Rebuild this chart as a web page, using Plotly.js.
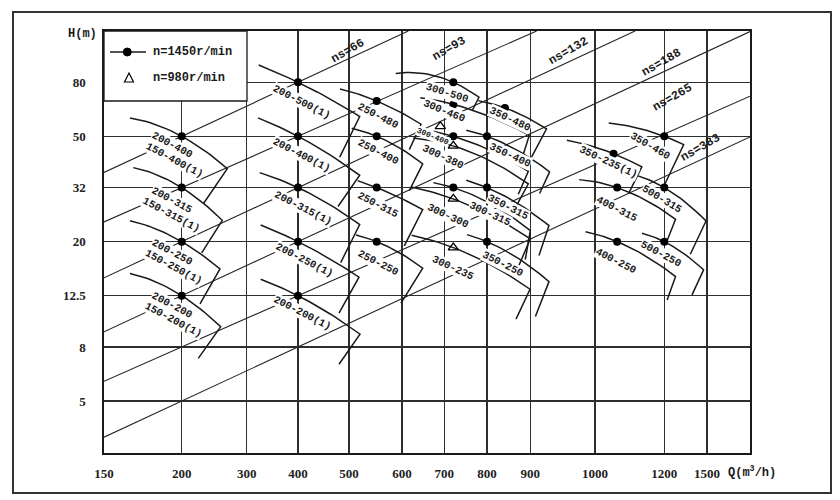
<!DOCTYPE html>
<html><head><meta charset="utf-8">
<script src="https://cdn.plot.ly/plotly-3.0.1.min.js"></script>
<style>html,body{margin:0;padding:0;background:#fff}#chart{width:840px;height:500px}</style>
</head><body><div id="chart"></div>
<script>
// ================= DATA =================
const xTickQ = [150,200,300,400,500,600,700,800,900,1000,1200,1500];
const yTickH = [5,8,12.5,20,32,50,80];

const pumpModel = ['200-400','200-315','200-250','200-200',
  '200-500(1)','200-400(1)','200-315(1)','200-250(1)','200-200(1)',
  '250-480','250-400','250-315','250-250',
  '300-500','300-460','300-400','300-380','300-315','300-300','300-235',
  '350-480','350-400','350-315','350-250',
  '350-235(1)','400-315','400-250',
  '350-460','500-315','500-250'];
const pumpModel2 = ['150-400(1)','150-315(1)','150-250(1)','150-200(1)'];
const pumpQ = [200,200,200,200, 400,400,400,400,400, 550,550,550,550,
  720,720,720,720,720,720,720, 840,800,800,800, 1050,1060,1060, 1200,1200,1200];
const pumpH = [50,32,20,12.5, 80,50,32,20,12.5, 68,50,32,20,
  80,66,50,46,32,29,19, 64,50,32,20, 43,32,20, 50,32,20];
const pumpSpeed = [1450,1450,1450,1450, 1450,1450,1450,1450,1450, 1450,1450,1450,1450,
  1450,1450,1450,980,1450,980,980, 1450,1450,1450,1450, 1450,1450,1450, 1450,1450,1450];
const extraTriQ = [690];
const extraTriH = [54.5];

const nsValue = [66,93,132,188,265,383];
const nsH200 = [50,32,20,12.5,8,5];
const nsH400 = [80,50,32,20,12.5,8];

// ================= LAYOUT (measured positions / shapes) =================
const xTickPos = [0,77.7,142.7,194,245,298,340.3,383,426.3,491,560.3,603];
const PLOT_W = 646, PX_DEC = 265, L_TOP = 2.0967, L_BOT = 0.5027;

// tile outline offsets in px relative to rated point: start dx,dy / corner dx,dy / edge end dx,dy (dy down)
const tileGeom = [
[-51.7,-18.4,45.6,32.3,22,67],[-48.4,-20,40.6,32.7,20,65.3],[-51.7,-21,38.3,27.3,18.3,62.3],[-51.7,-22.3,39,31,16.6,62.7],
[-39.3,-17.3,61.7,34.3,41.7,75],[-40,-18.4,61.7,39,40,70.3],[-38.3,-15,61.7,37,42.7,75],[-37.3,-16.7,61,35.6,41,71.6],[-37.3,-16.4,62,38.6,41,68.6],
[-36.7,-12,44.3,23.3,32.6,48.7],[-25,-8,46,27.6,32.6,54.3],[-19,-7,46,22,27.6,58.4],[-20.7,-6.7,46,26.6,24.3,61.6],
[-57.6,-8.7,25.7,15,19,28],[-33,-6.7,76,31,70,50],[-20,-5,75,35,65,58],[-40,-8,75,38,62,62],[-20,-5,77,43,72,72],[-42,-12,77,40,65,68],[-41.6,-12.3,76.7,41.7,62.7,71.7],
[-26.7,-7.3,41.6,21,26.6,49.3],[-20.7,-6,62.6,35.6,52.6,57.3],[-20.7,-7.4,62,38,52,68],[-20,-7,62,40,48.4,75],
[-46.7,-13.3,28.3,13.3,15,40],[-38,-8,58.4,31.7,50,53],[-31.6,-10,58.4,35,50,58.3],
[-55.6,-13.3,19.4,8.3,-0.6,50.3],[-27,-12,41.7,33.4,26,66.7],[-22.3,-8.4,39.3,28.3,27.7,53.3]
];
// label offsets in px relative to point, and angle
const labelGeom = [
[-9.4,9,28],[-10,12,28],[-10,10.7,28],[-10,9.3,28],
[3.4,20,27],[3.4,19,27],[5,20,27],[6,18.5,27],[4.4,17,27],
[1.6,15,27],[1.6,16,27],[1.6,17,27],[1.6,21.6,27],
[-6,11,17],[-9,7,22],[-20,0,22],[-10,11,25],[37,26,25],[-5,16.7,25],[0,20,25],
[5,11,25],[22.6,19,25],[21,19.3,27],[16,22,27],
[-5,8.3,25],[0,21,27],[-1,19,27],
[-14,10,30],[-2.3,11,31],[-3,12,28]
];
const label2Geom = [[-7.7,24,28],[-10,27,28],[-8.4,25.7,28],[-8.4,24.3,28]];
// ns label centres in page px
const nsLabelPx = [[348,51.3],[448.7,48.7],[568.7,51.3],[661,63],[672,98],[700.3,148]];

// ================= helpers =================
function qToX(q){
  let i = 0;
  while (i < xTickQ.length-2 && q > xTickQ[i+1]) i++;
  const a = Math.log(xTickQ[i]), b = Math.log(xTickQ[i+1]);
  return xTickPos[i] + (Math.log(q)-a)/(b-a)*(xTickPos[i+1]-xTickPos[i]);
}
const L = h => Math.log10(h);
const H = l => Math.pow(10, l);
const px2paperX = px => (px-104)/PLOT_W;
const px2paperY = py => (453-py)/(453-31);

const INK = '#1a1a1a';
const traces = [];

// ns lines
nsValue.forEach((ns,k)=>{
  const x1 = qToX(200), l1 = L(nsH200[k]);
  const x2 = qToX(400), l2 = L(nsH400[k]);
  const m = (l2-l1)/(x2-x1);
  const xl = 0, ll = l1 + m*(xl-x1);
  let xr = PLOT_W, lr = l1 + m*(xr-x1);
  if (lr > L_TOP){ lr = L_TOP; xr = x1 + (L_TOP-l1)/m; }
  traces.push({x:[xl,xr], y:[H(ll),H(lr)], mode:'lines', line:{color:'#262626',width:1.1}, hoverinfo:'skip', showlegend:false});
});

// tiles
pumpModel.forEach((name,i)=>{
  const g = tileGeom[i];
  const x1 = qToX(pumpQ[i]), l1 = L(pumpH[i]);
  const x0 = x1+g[0], l0 = l1 - g[1]/PX_DEC;
  const x2 = x1+g[2], l2 = l1 - g[3]/PX_DEC;
  const xs=[], ys=[];
  const N=24;
  for(let j=0;j<=N;j++){
    const x = x0 + (x2-x0)*j/N;
    const l = l0*((x-x1)*(x-x2))/((x0-x1)*(x0-x2)) + l1*((x-x0)*(x-x2))/((x1-x0)*(x1-x2)) + l2*((x-x0)*(x-x1))/((x2-x0)*(x2-x1));
    xs.push(x); ys.push(H(l));
  }
  xs.push(x1+g[4]); ys.push(H(l1 - g[5]/PX_DEC));
  traces.push({x:xs, y:ys, mode:'lines', line:{color:INK,width:1.5}, hoverinfo:'skip', showlegend:false});
});

// markers
const fi = pumpModel.map((_,i)=>i).filter(i=>pumpSpeed[i]===1450);
const ti = pumpModel.map((_,i)=>i).filter(i=>pumpSpeed[i]===980);
traces.push({x:fi.map(i=>qToX(pumpQ[i])), y:fi.map(i=>pumpH[i]), mode:'markers',
  marker:{symbol:'circle',size:8,color:'#000'}, showlegend:false, hoverinfo:'skip'});
traces.push({x:ti.map(i=>qToX(pumpQ[i])).concat(extraTriQ.map(qToX)), y:ti.map(i=>pumpH[i]).concat(extraTriH), mode:'markers',
  marker:{symbol:'triangle-up-open',size:9,color:'#000',line:{width:1.3,color:'#000'}}, showlegend:false, hoverinfo:'skip'});

// annotations
const annotations = [];
const lblFont = {family:'Liberation Mono', size:10.5, color:'#1a1a1a', weight:'bold'};
pumpModel.forEach((name,i)=>{
  const g = labelGeom[i];
  annotations.push({x:qToX(pumpQ[i])+g[0], y:L(pumpH[i]) - g[1]/PX_DEC, xref:'x', yref:'y',
    xanchor:'center', yanchor:'middle',
    text:name, showarrow:false, textangle:g[2], bgcolor:'#fff', borderpad:0,
    font: name==='300-400' ? Object.assign({},lblFont,{size:8}) : lblFont});
});
pumpModel2.forEach((name,i)=>{
  const g = label2Geom[i];
  annotations.push({x:qToX(pumpQ[i])+g[0], y:L(pumpH[i]) - g[1]/PX_DEC, xref:'x', yref:'y',
    xanchor:'center', yanchor:'middle',
    text:name, showarrow:false, textangle:g[2], bgcolor:'#fff', borderpad:0, font:lblFont});
});
nsValue.forEach((ns,k)=>{
  annotations.push({x:px2paperX(nsLabelPx[k][0]), y:px2paperY(nsLabelPx[k][1]), xref:'paper', yref:'paper',
    xanchor:'center', yanchor:'middle',
    text:'ns='+ns, showarrow:false, textangle:-30, font:{family:'Liberation Mono', size:12, color:'#1a1a1a', weight:'bold'}});
});
const axFont = {family:'Liberation Mono', size:12, color:'#1a1a1a', weight:'bold'};
const pa = (px,py,text,xa)=>({x:px2paperX(px), y:px2paperY(py), xref:'paper', yref:'paper', xanchor:xa||'center', yanchor:'middle', text, showarrow:false, font:axFont});
annotations.push(pa(82,34,'H(m)'));
annotations.push(pa(726,472,'Q(m<sup>3</sup>/h)','left'));
annotations.push(pa(150.7,52,'n=1450r/min','left'));
annotations.push(pa(150.7,78,'n=980r/min','left'));

const shapes = [
  {type:'rect', xref:'paper', yref:'paper', x0:px2paperX(13), x1:px2paperX(831), y0:px2paperY(493), y1:px2paperY(12), line:{color:'#333',width:2}},
  {type:'rect', xref:'paper', yref:'paper', x0:0, x1:px2paperX(247), y0:px2paperY(101), y1:1, fillcolor:'#fff', line:{color:INK,width:1.3}},
  {type:'line', xref:'paper', yref:'paper', x0:px2paperX(110), x1:px2paperX(146), y0:px2paperY(52), y1:px2paperY(52), line:{color:INK,width:1.3}},
  {type:'circle', xref:'paper', yref:'paper', xsizemode:'pixel', ysizemode:'pixel', xanchor:px2paperX(127.3), yanchor:px2paperY(52), x0:-4, x1:4, y0:-4, y1:4, fillcolor:'#000', line:{color:'#000',width:1}},
  {type:'path', xref:'paper', yref:'paper', xsizemode:'pixel', ysizemode:'pixel', xanchor:px2paperX(129), yanchor:px2paperY(78), path:'M -4.5 -4 L 4.5 -4 L 0 5 Z', line:{color:'#000',width:1.2}}
];

const gridCol = '#2e2e2e';
const tickFont = {family:'Liberation Serif', size:13, color:'#222', weight:'bold'};
const layout = {
  width:840, height:500, margin:{l:104, r:90, t:31, b:47},
  paper_bgcolor:'#fff', plot_bgcolor:'#fff', showlegend:false,
  xaxis:{range:[0,PLOT_W], tickmode:'array', tickvals:xTickPos, ticktext:xTickQ.map(String),
    showgrid:true, gridcolor:gridCol, gridwidth:1.2, zeroline:false, showline:true, mirror:true,
    linecolor:INK, linewidth:1.6, ticks:'', tickfont:tickFont, ticklabelstandoff:8, fixedrange:true},
  yaxis:{type:'log', range:[L_BOT,L_TOP], tickmode:'array', tickvals:yTickH, ticktext:yTickH.map(String),
    showgrid:true, gridcolor:gridCol, gridwidth:1.2, zeroline:false, showline:true, mirror:true,
    linecolor:INK, linewidth:1.6, ticks:'', tickfont:tickFont, ticklabelstandoff:14, fixedrange:true},
  annotations, shapes
};
Plotly.newPlot('chart', traces, layout, {staticPlot:true, displayModeBar:false});
</script></body></html>
